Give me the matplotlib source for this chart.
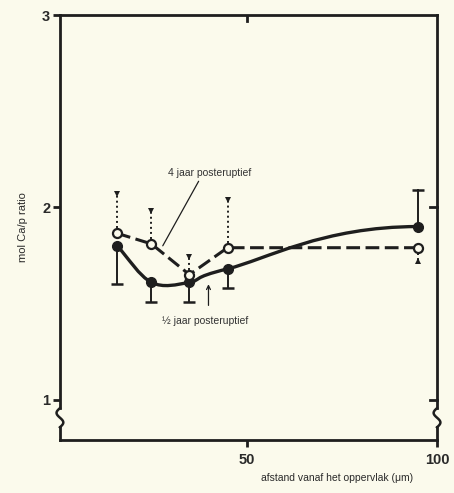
import numpy as np
import matplotlib.pyplot as plt
from matplotlib.path import Path
from matplotlib.patches import PathPatch

plt.rcParams['font.family'] = ['Liberation Sans', 'DejaVu Sans']

# distance from surface (um)
depth = [16, 25, 35, 45, 95]

# mol Ca/P ratio, 1/2 year post-eruptive (filled) and 4 years (open)
half_year = [1.80, 1.61, 1.61, 1.68, 1.90]
half_bar_end = [1.60, 1.51, 1.51, 1.58, 2.09]
four_year = [1.865, 1.81, 1.65, 1.79, 1.79]
four_bar_end = [2.07, 1.98, 1.74, 2.04, 1.72]

bg = '#fbfaec'
ink = '#1e1e1e'


def smooth_path(xs, ys):
    # catmull-rom style bezier through the points, flat at the right end
    pts = np.column_stack([xs, ys])
    n = len(pts)
    tang = np.zeros_like(pts)
    for i in range(n):
        if i == 0:
            tang[i] = pts[1] - pts[0]
        elif i == n - 1:
            tang[i] = [1.5 * (pts[i, 0] - pts[i - 1, 0]), 0.0]
        else:
            tang[i] = (pts[i + 1] - pts[i - 1]) / 2
    verts = [pts[0]]
    codes = [Path.MOVETO]
    for i in range(n - 1):
        verts += [pts[i] + tang[i] / 3, pts[i + 1] - tang[i + 1] / 3, pts[i + 1]]
        codes += [Path.CURVE4] * 3
    return Path(verts, codes)


fig = plt.figure(figsize=(4.54, 4.93), dpi=100, facecolor=bg)
ax = fig.add_axes([0.132, 0.1075, 0.8306, 0.862])
ax.set_facecolor(bg)
ax.set_xlim(1, 100)
ax.set_ylim(0.79, 3.0)

# error bars
for x, y, e in zip(depth, half_year, half_bar_end):
    ax.plot([x, x], [y, e], color=ink, lw=1.4, zorder=2)
    ax.plot(x, e, marker='_', ms=8, mew=1.8, color=ink, zorder=2)
for x, y, e in zip(depth, four_year, four_bar_end):
    ax.plot([x, x], [y, e], color=ink, lw=1.4, ls=(0, (1, 1.6)), zorder=2)
    ax.plot(x, e, marker='v' if e > y else '^', ms=4, color=ink, mew=0, zorder=2)

# curves
ax.add_patch(PathPatch(smooth_path(depth, half_year), fill=False, ec=ink, lw=2.4, zorder=3))
ax.plot(depth, four_year, color=ink, lw=2.2, ls=(0, (4.5, 1.8)), zorder=3)
ax.plot(depth, half_year, 'o', ms=7, color=ink, zorder=4)
ax.plot(depth, four_year, 'o', ms=6.5, mfc=bg, mec=ink, mew=1.6, zorder=5)

# labels
ax.annotate('4 jaar posteruptief', xy=(28, 1.80), xytext=(40.3, 2.176),
            ha='center', va='center', fontsize=7.5, color='#333333',
            arrowprops=dict(arrowstyle='-', color=ink, lw=0.9, shrinkA=0, shrinkB=0,
                            relpos=(0.42, 0.5)))
ax.annotate('', xy=(40, 1.60), xytext=(40, 1.49),
            arrowprops=dict(arrowstyle='->', color=ink, lw=0.9, mutation_scale=7,
                            shrinkA=0, shrinkB=0))
ax.text(39, 1.41, '½ jaar posteruptief', ha='center', va='center',
        fontsize=7.5, color='#333333')

# axes frame: top and bottom spines, side spines with break marks
for s in ['left', 'right']:
    ax.spines[s].set_visible(False)
for s in ['top', 'bottom']:
    ax.spines[s].set_linewidth(2)
    ax.spines[s].set_color(ink)
brk = np.linspace(0, 1, 30)
for xa in (0, 1):
    ax.plot([xa, xa], [0.075, 1.0], color=ink, lw=2,
            transform=ax.transAxes, clip_on=False, solid_capstyle='projecting')
    ax.plot([xa, xa], [0.0, 0.03], color=ink, lw=2,
            transform=ax.transAxes, clip_on=False, solid_capstyle='projecting')
    ax.plot(xa + 0.009 * np.sin(brk * 2 * np.pi), 0.03 + 0.045 * brk, color=ink,
            lw=1.8, transform=ax.transAxes, clip_on=False)

ax.set_xticks([50, 100])
ax.set_yticks([1, 2, 3])
ax.tick_params(axis='both', colors=ink, width=2, length=5, labelsize=10.5, pad=2)
ax.tick_params(axis='x', direction='out', pad=4)
for lab in ax.get_xticklabels() + ax.get_yticklabels():
    lab.set_fontweight('bold')
    lab.set_color('#2a2a2a')

# inner ticks on top and right
ax.plot([50, 50], [3.0, 2.97], color=ink, lw=2)
ax.plot([98.2, 100], [2.0, 2.0], color=ink, lw=2, clip_on=False)
ax.plot([98.2, 100], [1.0, 1.0], color=ink, lw=2, clip_on=False)

ax.set_ylabel('mol Ca/p ratio', fontsize=8, color='#2a2a2a', labelpad=10)
fig.text(0.742, 0.03, 'afstand vanaf het oppervlak (μm)', ha='center', va='center',
         fontsize=7.5, color='#2a2a2a')

fig.savefig('out.png', dpi=100, facecolor=bg)
